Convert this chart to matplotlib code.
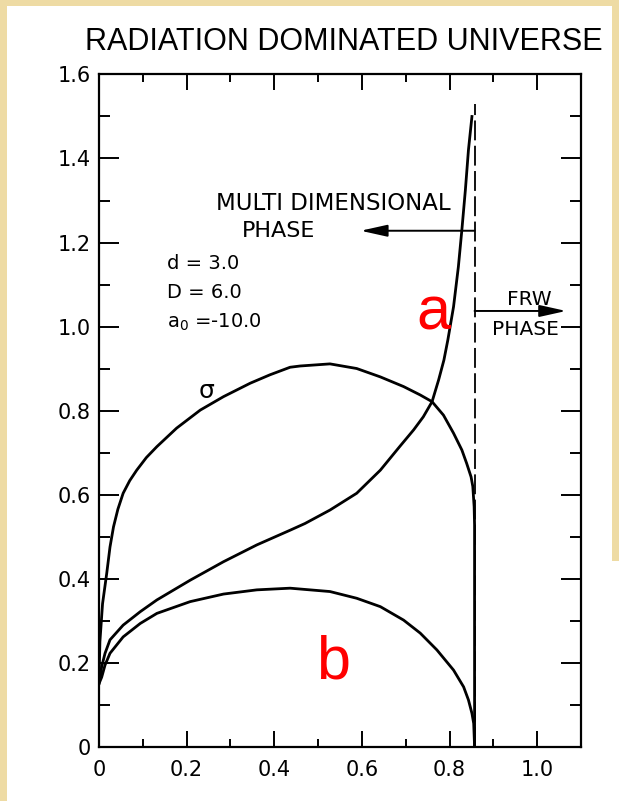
import matplotlib.pyplot as plt
from matplotlib.patches import Rectangle
import numpy as np

# curves
sigma_x = [0.0, 0.002, 0.008, 0.0175, 0.025, 0.033, 0.043, 0.055, 0.07, 0.086, 0.108, 0.132,
           0.177, 0.231, 0.284, 0.345, 0.39, 0.436, 0.459, 0.527, 0.588, 0.642, 0.695,
           0.733, 0.760, 0.786, 0.809, 0.828, 0.839, 0.849, 0.853, 0.856, 0.857, 0.857]
sigma_y = [0.16, 0.25, 0.34, 0.412, 0.475, 0.523, 0.565, 0.603, 0.633, 0.658, 0.688, 0.714,
           0.758, 0.801, 0.833, 0.865, 0.885, 0.903, 0.906, 0.911, 0.900, 0.880, 0.857,
           0.837, 0.821, 0.789, 0.746, 0.706, 0.674, 0.642, 0.619, 0.571, 0.528, 0.0]

a_x = [0.0, 0.006, 0.0137, 0.025, 0.055, 0.094, 0.132, 0.208, 0.284, 0.36, 0.436, 0.47,
       0.527, 0.588, 0.642, 0.686, 0.718, 0.74, 0.760, 0.775, 0.787, 0.796, 0.809, 0.82,
       0.828, 0.836, 0.843, 0.851]
a_y = [0.15, 0.19, 0.222, 0.254, 0.289, 0.321, 0.349, 0.396, 0.44, 0.48, 0.515, 0.531,
       0.563, 0.603, 0.658, 0.714, 0.754, 0.785, 0.821, 0.873, 0.92, 0.968, 1.047, 1.142,
       1.23, 1.325, 1.42, 1.50]

b_x = [0.0, 0.006, 0.0137, 0.025, 0.055, 0.094, 0.132, 0.208, 0.284, 0.36, 0.436, 0.47,
       0.527, 0.588, 0.642, 0.695, 0.733, 0.771, 0.809, 0.832, 0.843, 0.851, 0.855, 0.857]
b_y = [0.15, 0.165, 0.194, 0.222, 0.261, 0.293, 0.317, 0.345, 0.363, 0.373, 0.377, 0.374,
       0.369, 0.353, 0.333, 0.301, 0.27, 0.23, 0.182, 0.142, 0.111, 0.079, 0.055, 0.0]

phase_x = 0.857
dash_top = 1.53

xticks = [0, 0.2, 0.4, 0.6, 0.8, 1.0]
xtick_labels = ['0', '0.2', '0.4', '0.6', '0.8', '1.0']
yticks = [0, 0.2, 0.4, 0.6, 0.8, 1.0, 1.2, 1.4, 1.6]
ytick_labels = ['0', '0.2', '0.4', '0.6', '0.8', '1.0', '1.2', '1.4', '1.6']

fig = plt.figure(figsize=(6.19, 8.01), dpi=100)
fig.patch.set_facecolor('white')
# parchment edges of the slide
parch = '#eedba4'
fig.add_artist(Rectangle((0, 0), 7 / 619, 1, transform=fig.transFigure, color=parch, lw=0))
fig.add_artist(Rectangle((0, 1 - 6 / 801), 1, 6 / 801, transform=fig.transFigure, color=parch, lw=0))
fig.add_artist(Rectangle((612 / 619, 0.3), 7 / 619, 0.7, transform=fig.transFigure, color=parch, lw=0))

ax = fig.add_axes([0.160, 0.068, 0.7787, 0.839])

ax.plot(sigma_x, sigma_y, color='k', lw=2.0)
ax.plot(a_x, a_y, color='k', lw=2.0)
ax.plot(b_x, b_y, color='k', lw=2.0)
ax.plot([phase_x, phase_x], [0, dash_top], color='k', lw=1.3, ls=(0, (11, 3)))

ax.set_xlim(0, 1.1)
ax.set_ylim(0, 1.6)
ax.set_xticks(xticks)
ax.set_xticklabels(xtick_labels)
ax.set_xticks(np.arange(0.1, 1.0, 0.2), minor=True)
ax.set_yticks(yticks)
ax.set_yticklabels(ytick_labels)
ax.set_yticks(np.arange(0.1, 1.6, 0.2), minor=True)

for s in ax.spines.values():
    s.set_linewidth(1.6)

ax.tick_params(which='both', direction='in', top=True, right=True, width=1.4, labelsize=15)
ax.tick_params(axis='x', which='major', length=11.5, pad=10)
ax.tick_params(axis='x', which='minor', length=6)
ax.tick_params(axis='y', which='major', length=14.4, pad=6)
ax.tick_params(axis='y', which='minor', length=8)

fig.text(0.556, 0.948, 'RADIATION DOMINATED UNIVERSE', ha='center', va='center',
         fontsize=22, family=['Liberation Sans', 'DejaVu Sans'])

ax.text(0.267, 1.292, 'MULTI DIMENSIONAL', fontsize=16.5, ha='left', va='center')
ax.text(0.326, 1.228, 'PHASE', fontsize=16, ha='left', va='center')
ax.annotate('', xy=(0.597, 1.228), xytext=(phase_x, 1.228),
            arrowprops=dict(arrowstyle='-|>,head_length=0.9,head_width=0.2',
                            color='k', lw=1.4, mutation_scale=18, shrinkA=0, shrinkB=0))

ax.text(0.983, 1.065, 'FRW', fontsize=14.5, ha='center', va='center')
ax.text(0.973, 0.992, 'PHASE', fontsize=14.5, ha='center', va='center')
ax.annotate('', xy=(1.066, 1.037), xytext=(phase_x, 1.037),
            arrowprops=dict(arrowstyle='-|>,head_length=0.9,head_width=0.2',
                            color='k', lw=1.4, mutation_scale=18, shrinkA=0, shrinkB=0))

ax.text(0.155, 1.151, 'd = 3.0', fontsize=14, ha='left', va='center')
ax.text(0.155, 1.082, 'D = 6.0', fontsize=14, ha='left', va='center')
ax.text(0.155, 1.011, 'a$_0$ =-10.0', fontsize=14, ha='left', va='center')

ax.text(0.246, 0.846, 'σ', fontsize=18, ha='center', va='center')

ax.text(0.763, 0.992, 'a', fontsize=44, color='red', ha='center', va='baseline',
        family=['Liberation Sans', 'DejaVu Sans'])
ax.text(0.534, 0.163, 'b', fontsize=44, color='red', ha='center', va='baseline',
        family=['Liberation Sans', 'DejaVu Sans'])

fig.savefig('out.png', dpi=100)
